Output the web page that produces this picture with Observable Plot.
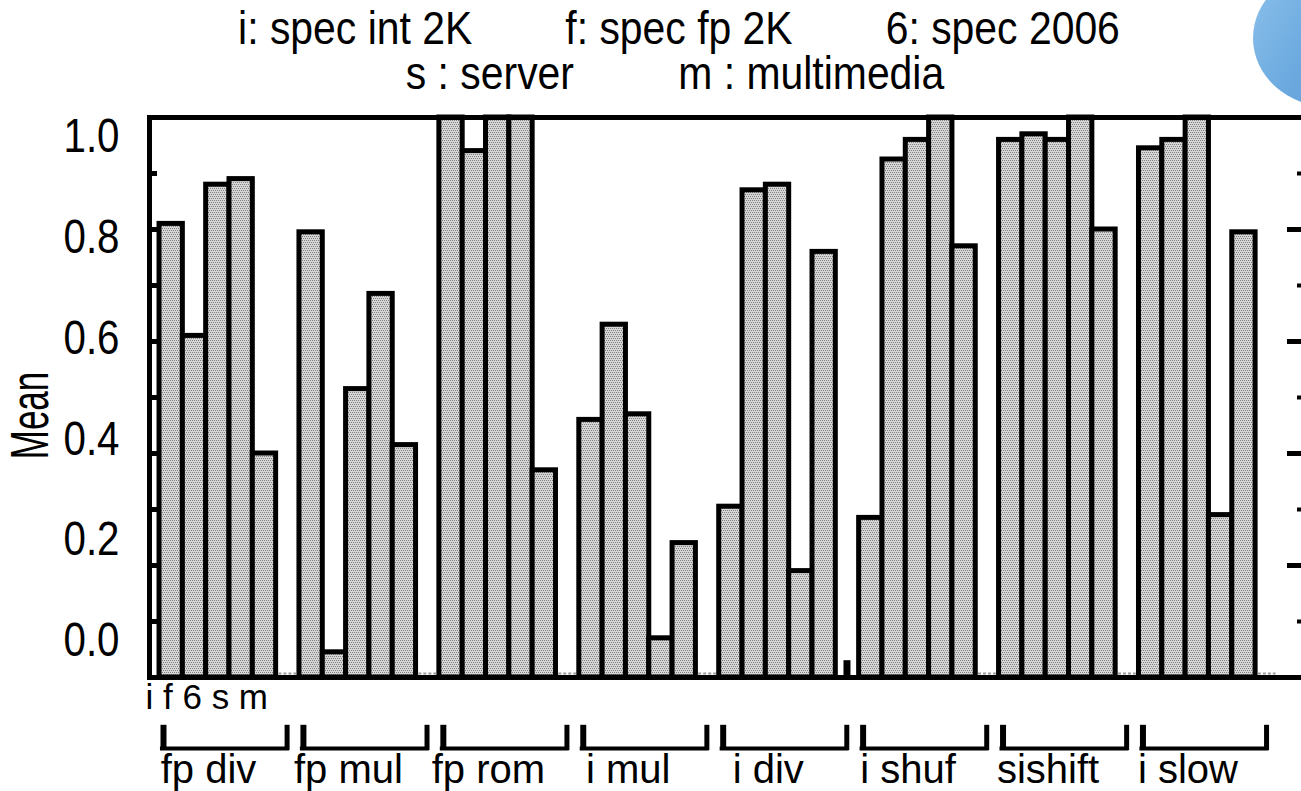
<!DOCTYPE html>
<html>
<head>
<meta charset="utf-8">
<script src="https://cdn.jsdelivr.net/npm/d3@7"></script>
<script src="https://cdn.jsdelivr.net/npm/@observablehq/plot@0.6"></script>
<style>
  html, body { margin: 0; padding: 0; background: #fff; overflow: hidden; width: 1301px; height: 791px; }
  #wrap { position: relative; width: 1301px; height: 791px; overflow: hidden; }
  #wrap svg { position: absolute; left: 0; top: 0; }
  .legline { position: absolute; left: 0; width: 1358px; display: flex; justify-content: center;
             font-family: "Liberation Sans", Arial, sans-serif;
             font-size: 47px; line-height: 47px; white-space: nowrap; color: #000;
             transform: scaleX(0.87); transform-origin: 679px 0; }
  #leg1 { top: 4px; column-gap: 107px; }
  #leg2 { top: 49px; left: -4px; column-gap: 120px; }
  #blob { position: absolute; left: 1253px; top: -31px; width: 154px; height: 138px; border-radius: 50%;
          background: linear-gradient(120deg, #8cc2ec 0%, #6aa8de 45%, #5b9bd5 100%); }
</style>
</head>
<body>
<div id="wrap">
  <div id="leg1" class="legline"></div>
  <div id="leg2" class="legline"></div>
  <div id="blob"></div>
</div>
<script>
// ---------------- data ----------------
const groups = ["fp div", "fp mul", "fp rom", "i mul", "i div", "i shuf", "sishift", "i slow"];
const series = ["i", "f", "6", "s", "m"];
const valuesI = [0.81, 0.795, 1.0, 0.46, 0.305, 0.285, 0.96, 0.945];
const valuesF = [0.61, 0.045, 0.94, 0.63, 0.87, 0.925, 0.97, 0.96];
const values6 = [0.88, 0.515, 1.0, 0.47, 0.88, 0.96, 0.96, 1.0];
const valuesS = [0.89, 0.685, 1.0, 0.07, 0.19, 1.0, 1.0, 0.29];
const valuesM = [0.40, 0.415, 0.37, 0.24, 0.76, 0.77, 0.80, 0.795];
const valuesGap = [0, 0, 0, 0, 0.03, 0, 0, 0];
const legendLine1 = ["i: spec int 2K", "f: spec fp 2K", "6: spec 2006"];
const legendLine2 = ["s : server", "m : multimedia"];
const yTickLabels = [0.0, 0.2, 0.4, 0.6, 0.8, 1.0];
const yTickMarks = [0.1, 0.2, 0.3, 0.4, 0.5, 0.6, 0.7, 0.8, 0.9];
const yAxisTitle = "Mean";

// ---------------- build table ----------------
const seriesValues = [valuesI, valuesF, values6, valuesS, valuesM];
const slotsPerGroup = series.length + 1;
const rows = groups.flatMap((g, gi) =>
  series.map((s, si) => ({ group: g, series: s, slot: gi * slotsPerGroup + si, value: seriesValues[si][gi] })));
const gapRows = groups.map((g, gi) => ({ group: g, slot: gi * slotsPerGroup + series.length, value: valuesGap[gi] }));
const majorTicks = yTickMarks.filter((d, i) => i % 2 === 1);
const minorTicks = yTickMarks.filter((d, i) => i % 2 === 0);

// ---------------- legend (HTML) ----------------
d3.select("#leg1").selectAll("span").data(legendLine1).join("span").text(d => d);
d3.select("#leg2").selectAll("span").data(legendLine2).join("span").text(d => d);

// ---------------- layout ----------------
const W = 1310, H = 791;
const M = { left: 149, right: 5, top: 117, bottom: 114 };
const frameW = W - M.left - M.right;
const regular = "'Liberation Sans', Arial, Helvetica, sans-serif";
const svgStyle = { background: "none", maxWidth: "none", overflow: "visible", fontFamily: regular, color: "#000" };

const main = Plot.plot({
  width: W, height: H,
  marginLeft: M.left, marginRight: M.right, marginTop: M.top, marginBottom: M.bottom,
  x: { type: "linear", domain: [-0.43, groups.length * slotsPerGroup + 1.14], axis: null },
  y: { domain: [0, 1], axis: null },
  style: svgStyle,
  marks: [
    Plot.rect(rows, { x1: "slot", x2: d => d.slot + 1, y1: 0, y2: "value",
      fill: "url(#stipple)", stroke: "#000", strokeWidth: 5 }),
    Plot.ruleY(gapRows.filter(d => d.value === 0), { x1: d => d.slot + 0.12, x2: d => d.slot + 0.88, y: 0, dy: -4,
      stroke: "#9a9a9a", strokeWidth: 2, strokeDasharray: "3,2" }),
    Plot.rect(gapRows.filter(d => d.value > 0), { x1: d => d.slot + 0.35, x2: d => d.slot + 0.65, y1: 0, y2: "value", fill: "#000" }),
    // inward tick marks
    Plot.ruleY(yTickMarks, { y: d => d, insetRight: frameW - 8, stroke: "#000", strokeWidth: 5 }),
    Plot.ruleY(majorTicks, { y: d => d, insetLeft: frameW - 18, stroke: "#000", strokeWidth: 5 }),
    Plot.ruleY(minorTicks, { y: d => d, insetLeft: frameW - 8, stroke: "#000", strokeWidth: 4 }),
    Plot.frame({ stroke: "#000", strokeWidth: 5 }),
    // series letters under the first group
    Plot.text([series.join(" ")], { frameAnchor: "bottom-left", textAnchor: "start", lineAnchor: "middle",
      dx: -4, dy: 20, fontSize: 35, fill: "#000" }),
    // group brackets
    Plot.ruleY(groups, { x1: (d, i) => i * slotsPerGroup + 0.04, x2: (d, i) => i * slotsPerGroup + 5.57, y: 0, dy: 71,
      stroke: "#000", strokeWidth: 4 }),
    Plot.ruleX(groups, { x: (d, i) => i * slotsPerGroup + 0.17, y1: 0, y2: 0.045, dy: 73, stroke: "#000", strokeWidth: 6 }),
    Plot.ruleX(groups, { x: (d, i) => i * slotsPerGroup + 5.47, y1: 0, y2: 0.045, dy: 73, stroke: "#000", strokeWidth: 5 }),
    Plot.text(groups, { x: (d, i) => i * slotsPerGroup + 2.1, y: 0, text: d => d, dy: 93, fontSize: 40,
      lineAnchor: "middle", textAnchor: "middle", fill: "#000" })
  ]
});

// stipple pattern for bar fills
const defs = d3.select(main).insert("defs", ":first-child");
const pat = defs.append("pattern").attr("id", "stipple").attr("patternUnits", "userSpaceOnUse")
  .attr("width", 4).attr("height", 4);
pat.append("rect").attr("width", 4).attr("height", 4).attr("fill", "#d6d6d6");
[[0, 0], [2, 0], [1, 2], [3, 2]].forEach(([px, py]) =>
  pat.append("rect").attr("x", px).attr("y", py).attr("width", 1).attr("height", 1).attr("fill", "#808080"));

// overlay with the value labels (placed as in the original, offset from the tick marks)
const labels = Plot.plot({
  width: W, height: H,
  marginLeft: M.left, marginRight: M.right, marginTop: M.top, marginBottom: M.bottom,
  y: { domain: [-0.0723, 1.0377] },
  style: svgStyle,
  marks: [
    Plot.axisY(yTickLabels, { anchor: "left", tickSize: 0, tickPadding: 30, tickFormat: d3.format(".1f"),
      fontSize: 48, label: null, fill: "#000" }),
    Plot.text([yAxisTitle], { frameAnchor: "left", rotate: -90, dx: -118, dy: 18, fontSize: 53,
      textAnchor: "middle", lineAnchor: "middle", fill: "#000" })
  ]
});
// condensed look of the original lettering
d3.select(labels).selectAll("text")
  .attr("transform", function () {
    const t = this.getAttribute("transform") || "";
    return t + (this.textContent === yAxisTitle ? " scale(0.66,1)" : " scale(0.84,1)");
  });

const wrap = document.getElementById("wrap");
wrap.insertBefore(labels, wrap.firstChild);
wrap.insertBefore(main, wrap.firstChild);
</script>
</body>
</html>
